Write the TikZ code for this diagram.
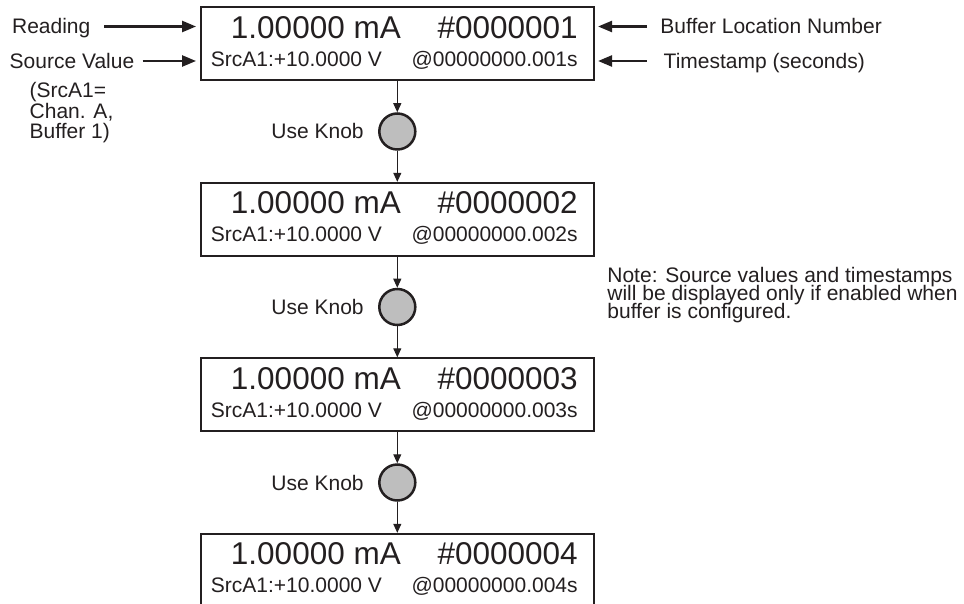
\documentclass[tikz,border=0pt]{standalone}
\usepackage{fontspec}
\setmainfont{Liberation Sans}
\usetikzlibrary{arrows.meta,positioning}
\definecolor{ink}{RGB}{35,31,32}
\definecolor{knobgray}{RGB}{190,190,190}

\begin{document}
\begin{tikzpicture}[x=0.5pt,y=-0.5pt,
  every node/.style={text=ink,inner sep=0pt},
  tag/.style={font=\fontsize{10.5}{12.6}\selectfont,text height=7.5pt,text depth=0pt},
  display/.style={draw=ink,line width=1pt,minimum width=196.75pt,minimum height=36.5pt},
  bigtext/.style={font=\fontsize{15.75}{18}\selectfont},
  smalltext/.style={font=\fontsize{10.5}{12.6}\selectfont},
  knob/.style={circle,draw=ink,fill=knobgray,line width=1.25pt,minimum size=18pt},
  flow/.style={draw=ink,line width=0.5pt,-{Triangle[length=4.5pt,width=4pt]}},
  pointer/.style={draw=ink,line width=1.2pt,-{Triangle[length=7pt,width=5.5pt]}}]

\useasboundingbox (0,0) rectangle (964,604);
\clip (0,0) rectangle (964,604);

% buffer readings, one display per step
\foreach \i in {1,2,3,4} {
  \node[display] (b\i) at (397.3,{43.8+175.5*(\i-1)}) {};
  \node[bigtext,anchor=base west] (val\i) at ([shift={(31,32)}]b\i.north west) {1.00000 mA};
  \node[bigtext,anchor=base east] (num\i) at ([shift={(-17,32)}]b\i.north east) {\#000000\i};
  \node[smalltext,anchor=base west] (src\i) at ([shift={(11,60)}]b\i.north west) {SrcA1:+10.0000 V};
  \node[smalltext,anchor=base east] (stamp\i) at ([shift={(-17,60)}]b\i.north east) {@00000000.00\i s};
}

% knob between two displays
\foreach \i/\j in {1/2,2/3,3/4} {
  \node[knob] (k\i) at (397.3,{131.5+175.5*(\i-1)}) {};
  \node[tag,left=7pt of k\i] (use\i) {Use Knob};
  \draw[flow] (b\i.south) -- (k\i.north);
  \draw[flow] (k\i.south) -- (b\j.north);
}

% left side
\node[tag,anchor=west] (reading) at (11.7,26.5) {Reading};
\node[tag,anchor=west] (srcval) at (9.3,61) {Source Value};
\node[anchor=north west,align=left,font={\fontsize{10.5}{10.25}\selectfont\lineskiplimit-20pt}] (srcnote) at (29.3,82) {(SrcA1=\\Chan. A,\\Buffer 1)};
\draw[pointer,shorten >=1.75pt] ([xshift=6.7pt]reading.east) -- (reading.east -| b1.west);
\draw[pointer,shorten >=1.75pt] ([xshift=4pt]srcval.east) -- (srcval.east -| b1.west);

% right side
\node[tag,anchor=west] (bufloc) at (660,26.5) {Buffer Location Number};
\node[tag,anchor=west] (tstamp) at (663.3,61) {Timestamp (seconds)};
\draw[pointer,shorten >=1.5pt] ([xshift=-6.5pt]bufloc.west) -- (bufloc.west -| b1.east);
\draw[pointer,shorten >=1.5pt] ([xshift=-8.2pt]tstamp.west) -- (tstamp.west -| b1.east);

\node[anchor=north west,align=left,font={\fontsize{10.5}{9}\selectfont\lineskiplimit-20pt}] (note) at (607,267) {Note: Source values and timestamps\\will be displayed only if enabled when\\buffer is configured.};

\end{tikzpicture}
\end{document}
